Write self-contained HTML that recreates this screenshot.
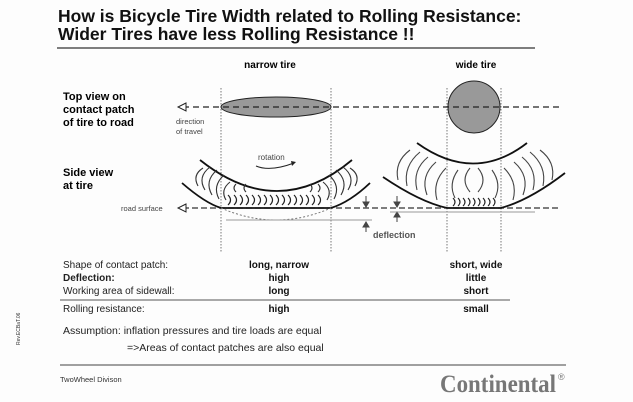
<!DOCTYPE html>
<html><head><style>
body{margin:0;background:#fff;}
svg{display:block;font-family:"Liberation Sans",Arial,sans-serif;}
</style></head><body>
<svg width="633" height="402" viewBox="0 0 633 402" xmlns="http://www.w3.org/2000/svg">
<rect width="633" height="402" fill="#fdfdfd"/>
<text x="58" y="22" font-size="17.5" font-weight="bold" fill="#111">How is Bicycle Tire Width related to Rolling Resistance:</text>
<text x="58" y="40" font-size="17.5" font-weight="bold" fill="#111">Wider Tires have less Rolling Resistance !!</text>
<line x1="57" y1="48" x2="535" y2="48" stroke="#333" stroke-width="1.3"/>
<text x="270" y="68" font-size="10" font-weight="bold" text-anchor="middle">narrow tire</text>
<text x="476" y="68" font-size="10" font-weight="bold" text-anchor="middle">wide tire</text>

<g stroke="#555" stroke-width="0.8" stroke-dasharray="1.5,1.5">
<line x1="221" y1="88" x2="221" y2="252"/><line x1="331" y1="88" x2="331" y2="252"/>
<line x1="447" y1="88" x2="447" y2="252"/><line x1="501" y1="88" x2="501" y2="252"/>
</g>
<text x="63" y="100" font-size="11" font-weight="bold">Top view on</text>
<text x="63" y="113" font-size="11" font-weight="bold">contact patch</text>
<text x="63" y="126" font-size="11" font-weight="bold">of tire to road</text>
<ellipse cx="276" cy="107" rx="55" ry="10" fill="#999" stroke="#222"/>
<circle cx="474" cy="107" r="26" fill="#999" stroke="#222"/>
<line x1="183" y1="107" x2="560" y2="107" stroke="#222" stroke-width="1.3" stroke-dasharray="6,4"/>
<path d="M186,103 L178,107 L186,111 Z" fill="#fff" stroke="#222"/>
<text x="176" y="124" font-size="7.5" fill="#444">direction</text>
<text x="176" y="134" font-size="7.5" fill="#444">of travel</text>

<text x="63" y="176" font-size="11" font-weight="bold">Side view</text>
<text x="63" y="189" font-size="11" font-weight="bold">at tire</text>
<text x="258" y="160" font-size="8" fill="#444">rotation</text>
<path d="M256,166 Q270,172 294,163" fill="none" stroke="#222"/>
<path d="M291,161 L296,162 L292,166 Z" fill="#222"/>

<text x="121" y="211" font-size="7.5" fill="#444">road surface</text>
<line x1="183" y1="208" x2="560" y2="208" stroke="#333" stroke-width="1.3" stroke-dasharray="6,3"/>
<path d="M186,204 L178,208 L186,212 Z" fill="#fff" stroke="#222"/>

<!-- narrow tire -->
<path d="M200,160 Q278,222 352,160" fill="none" stroke="#111" stroke-width="1.8"/>
<path d="M182,183 Q205,203 221,208 L331,208 Q350,202 370,183" fill="none" stroke="#111" stroke-width="1.8"/>
<path d="M221,208 Q276,232 331,208" fill="none" stroke="#777" stroke-dasharray="2,2"/>
<line x1="226" y1="220" x2="372" y2="220" stroke="#999"/>
<g fill="none" stroke="#333" stroke-width="1.1">
<path d="M198,186 Q192,175 203,168"/><path d="M205,190 Q197,177 210,167"/><path d="M212,195 Q204,181 217,170"/>
<path d="M219,199 Q212,186 224,175"/><path d="M226,200 Q220,190 230,182"/>
<path d="M355,186 Q361,175 350,168"/><path d="M348,190 Q356,177 343,167"/><path d="M341,195 Q349,181 336,170"/>
<path d="M334,199 Q341,186 329,175"/><path d="M327,200 Q333,190 323,182"/>
<path d="M236,192 Q232,188 236,184"/><path d="M246,192 Q242,188 246,184"/><path d="M310,192 Q314,188 310,184"/><path d="M318,192 Q322,188 318,184"/>
</g>
<g fill="none" stroke="#222" stroke-width="1.2">
<path d="M228,205 Q233,200 228,195"/><path d="M234,205 Q239,200 234,195"/><path d="M240,205 Q245,200 240,195"/><path d="M246,205 Q251,200 246,195"/>
<path d="M252,205 Q257,200 252,195"/><path d="M258,205 Q263,200 258,195"/><path d="M264,205 Q269,200 264,195"/><path d="M270,205 Q275,200 270,195"/>
<path d="M276,205 Q281,200 276,195"/><path d="M282,205 Q287,200 282,195"/><path d="M288,205 Q293,200 288,195"/><path d="M294,205 Q299,200 294,195"/>
<path d="M300,205 Q305,200 300,195"/><path d="M306,205 Q311,200 306,195"/><path d="M312,205 Q317,200 312,195"/><path d="M318,205 Q323,200 318,195"/>
</g>
<g stroke="#444" fill="#444">
<line x1="366" y1="196" x2="366" y2="205"/><path d="M363,202 L366,207 L369,202 Z"/>
<line x1="366" y1="224" x2="366" y2="232"/><path d="M363,227 L366,222 L369,227 Z"/>
<line x1="397" y1="196" x2="397" y2="205"/><path d="M394,202 L397,207 L400,202 Z"/>
<line x1="397" y1="214" x2="397" y2="222"/><path d="M394,217 L397,212 L400,217 Z"/>
</g>
<text x="373" y="238" font-size="9" font-weight="bold" fill="#555">deflection</text>

<!-- wide tire -->
<path d="M417,143 Q474,184 527,143" fill="none" stroke="#111" stroke-width="1.8"/>
<path d="M383,177 Q420,202 447,208 L501,208 Q530,200 565,173" fill="none" stroke="#111" stroke-width="1.8"/>
<line x1="390" y1="212" x2="535" y2="212" stroke="#999"/>
<g fill="none" stroke="#444" stroke-width="1.1">
<path d="M398,180 Q394,162 410,150"/><path d="M407,186 Q403,166 420,152"/><path d="M417,190 Q412,170 428,157"/>
<path d="M427,195 Q420,176 436,162"/><path d="M437,200 Q432,182 446,168"/>
<path d="M552,180 Q556,162 540,150"/><path d="M543,186 Q547,166 530,152"/><path d="M533,190 Q538,170 522,157"/>
<path d="M523,195 Q530,176 514,162"/><path d="M513,200 Q518,182 504,168"/>
<path d="M455,198 Q448,184 458,170"/><path d="M495,198 Q502,184 492,170"/>
<path d="M470,192 Q460,180 470,168"/><path d="M478,192 Q488,180 478,168"/>
</g>
<g fill="none" stroke="#222" stroke-width="1.1">
<path d="M453,206 Q457,202 453,198"/><path d="M458,206 Q462,202 458,198"/><path d="M463,206 Q467,202 463,198"/><path d="M468,206 Q472,202 468,198"/>
<path d="M473,206 Q477,202 473,198"/><path d="M478,206 Q482,202 478,198"/><path d="M483,206 Q487,202 483,198"/><path d="M488,206 Q492,202 488,198"/>
<path d="M493,206 Q497,202 493,198"/>
</g>

<!-- table -->
<g font-size="10" fill="#222">
<text x="63" y="268">Shape of contact patch:</text>
<text x="63" y="281" font-weight="bold">Deflection:</text>
<text x="63" y="294">Working area of sidewall:</text>
<text x="63" y="312">Rolling resistance:</text>
</g>
<g font-size="10" font-weight="bold" text-anchor="middle" fill="#111">
<text x="279" y="268">long, narrow</text><text x="279" y="281">high</text><text x="279" y="294">long</text><text x="279" y="312">high</text>
<text x="476" y="268">short, wide</text><text x="476" y="281">little</text><text x="476" y="294">short</text><text x="476" y="312">small</text>
</g>
<line x1="60" y1="300" x2="510" y2="300" stroke="#555" stroke-width="1"/>
<text x="63" y="334" font-size="10.5" fill="#222">Assumption: inflation pressures and tire loads are equal</text>
<text x="127" y="351" font-size="10.5" fill="#222">=&gt;Areas of contact patches are also equal</text>
<line x1="60" y1="365" x2="566" y2="365" stroke="#444" stroke-width="1"/>
<text x="60" y="382" font-size="7.5" fill="#333">TwoWheel Divison</text>
<text x="440" y="392" font-size="25" font-weight="bold" font-family="Liberation Serif,serif" fill="#777" textLength="116" lengthAdjust="spacingAndGlyphs">Continental</text>
<text x="558" y="380" font-size="9" fill="#777">®</text>
<text x="20" y="345" font-size="5" fill="#333" transform="rotate(-90 20 345)">Rev.ECBaT.06</text>
</svg>
</body></html>
